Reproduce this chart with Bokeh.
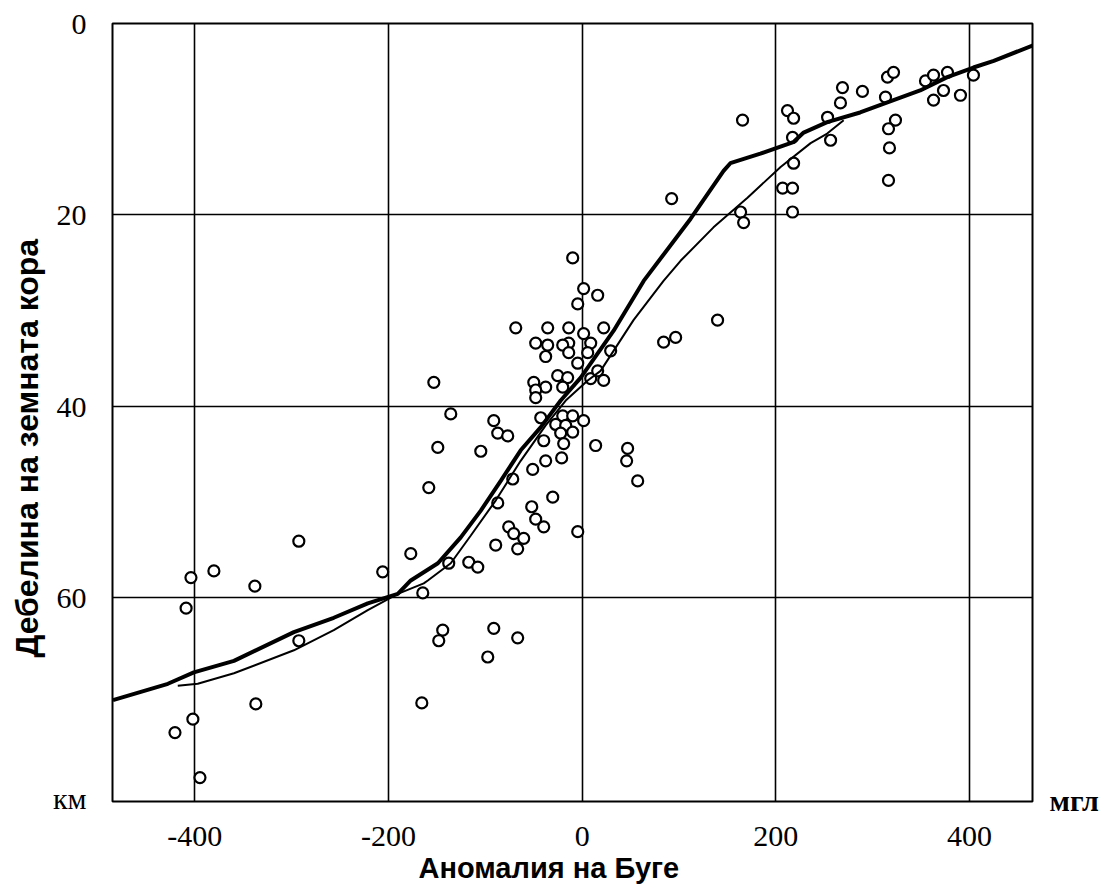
from bokeh.plotting import figure
from bokeh.models import Range1d, FixedTicker, Title, LinearAxis
from bokeh.embed import file_html
from bokeh.resources import INLINE

# Bouguer anomaly (mGal) vs crustal thickness (km)
x_ticks = [-400, -200, 0, 200, 400]
x_tick_labels = {-400: "-400", -200: "-200", 0: "0", 200: "200", 400: "400"}
y_ticks = [0, 20, 40, 60, 81]
y_tick_labels = {81: "км"}
unit_tick = [81.2]
unit_label = {81.2: "мгл"}

thick_x = [-484.5, -427.8, -401, -359.6, -297.7, -256.5, -221.4, -190.4, -177, -149, -125.4,
           -104.7, -84.1, -63.5, -42.9, -22.2, -1.5, 32.5, 63.5, 112, 146, 153, 184, 218,
           228.7, 253, 287, 321.5, 349, 377, 404, 425, 465, 480]
thick_y = [70.7, 69.0, 67.8, 66.6, 63.6, 62.1, 60.6, 59.6, 58.2, 56.4, 53.7,
           50.9, 47.8, 44.6, 42.2, 39.4, 37.0, 32.1, 26.9, 20.4, 15.4, 14.6, 13.6, 12.4,
           11.4, 10.3, 9.3, 8.0, 7.0, 5.6, 4.6, 3.9, 2.3, 1.8]

thin_x = [-417.6, -397, -359.6, -297.7, -256.5, -221.4, -190.4, -163.6, -159.4, -135.7, -115,
          -89, -63.5, -37.7, -17, 5.7, 19, 53, 84, 101.6, 135.6, 170.7, 204.9, 235.9, 253, 270]
thin_y = [69.2, 69.0, 67.9, 65.5, 63.4, 61.3, 59.6, 58.5, 58.2, 56.4, 53.5,
          49.8, 45.7, 42.0, 39.4, 37.3, 36.3, 31.0, 26.9, 24.8, 21.3, 18.2, 15.0, 12.5, 11.5, 10.1]

pts_x = [-380.3, -404, -338, -206, -409, -292.6, -292.6, -337, -402, -420.5, -394.7,
         1.5, 16, -4.6, -68.6, -35.6, -13.9, 22.2, -48, -35.6, -13.9, 1.5, 8.8, -20.1, -37.7,
         -13.9, 5.7, 29.4, -4.6, -25.3, -15, 8.8, 16, 22.2, -153.2, -50, -37.7, -48, -20.1, -48,
         -135.7, -42.8, -20.1, -9.8, 1.5, -91.3, -27.3, -17, -87.2, -76.9, -22.2, -9.8, -39.7,
         -19.1, -149.1, -104.7, 13.9, 46.9, 45.9, -37.7, -21.2, -51.1, 57.3, -71.7, -158.4,
         -87.2, -30.4, -52.1, -48, -39.7, -75.9, -4.6, -70.7, -60.4, -89.3, -66.6, -177,
         -117.1, -107.8, -137.8,
         -164.6, -144, -148.1, -91.3, -66.6, -97.5, -165.6,
         165.6, 92.4, -9.8, 163.6, 166.7, 139.8, 84.1, 96.5,
         212, 218.3, 217.2, 218.3, 207, 217.2, 217.2, 253.4, 256.5, 268.8, 266.7, 289.4,
         315.3, 321.5, 313.2, 323.5, 316.3, 317.3, 316.3, 354.5, 362.8, 377.2, 373.1, 362.8,
         390.6, 404]
pts_y = [57.2, 57.9, 58.8, 57.3, 61.1, 54.1, 64.5, 71.1, 72.7, 74.1, 78.8,
         27.7, 28.4, 29.3, 31.8, 31.8, 31.8, 31.8, 33.4, 33.6, 33.4, 32.4, 33.4, 33.6, 34.8,
         34.4, 34.4, 34.2, 35.5, 36.8, 37.0, 37.1, 36.3, 37.3, 37.5, 37.5, 38.0, 38.3, 38.0, 39.1,
         40.8, 41.2, 41.0, 41.0, 41.5, 41.5, 41.9, 42.0, 42.8, 43.1, 42.8, 42.7, 43.6,
         43.9, 44.3, 44.7, 44.1, 44.4, 45.7, 45.7, 45.4, 46.6, 47.8, 47.6, 48.5,
         50.1, 49.5, 50.5, 51.8, 52.6, 52.6, 53.1, 53.3, 53.8, 54.5, 54.9, 55.4,
         56.3, 56.8, 56.4,
         59.5, 63.4, 64.5, 63.2, 64.2, 66.2, 71.0,
         10.1, 18.3, 24.5, 19.7, 20.8, 31.0, 33.3, 32.8,
         9.1, 9.9, 11.9, 14.6, 17.2, 17.2, 19.7, 9.8, 12.2, 6.7, 8.3, 7.1,
         5.6, 5.1, 7.7, 10.1, 11.0, 13.0, 16.4, 6.0, 5.4, 5.1, 7.0, 8.0,
         7.5, 5.4]

x_title = "Аномалия на Буге"
y_title = "Дебелина на земната кора"

W, H = 1102, 886
p = figure(width=W, height=H, output_backend="svg", toolbar_location=None,
           x_range=Range1d(-485, 465), y_range=Range1d(81.3, 0),
           min_border_left=112, min_border_top=23, min_border_right=70, min_border_bottom=85)
p.background_fill_color = "white"
p.border_fill_color = "white"
p.outline_line_color = "black"
p.outline_line_width = 2

xax = p.xaxis[0]
yax = p.yaxis[0]
xax.ticker = FixedTicker(ticks=x_ticks)
xax.major_label_overrides = x_tick_labels
xax.major_label_standoff = 19
yax.ticker = FixedTicker(ticks=y_ticks)
yax.major_label_overrides = y_tick_labels
yax.major_label_standoff = 20

# unit label "мгл" on a right-hand axis at the bottom of the frame
unit_axis = LinearAxis(ticker=FixedTicker(ticks=unit_tick), major_label_overrides=unit_label,
                       major_label_standoff=11, major_label_text_baseline="top",
                       major_label_text_font_style="bold")
p.add_layout(unit_axis, "right")

for ax in (xax, yax, unit_axis):
    ax.axis_line_color = None
    ax.major_tick_line_color = None
    ax.minor_tick_line_color = None
    ax.major_label_text_font = "Liberation Serif"
    ax.major_label_text_font_size = "30px"
    ax.major_label_text_color = "black"

p.xgrid.ticker = FixedTicker(ticks=x_ticks)
p.ygrid.ticker = FixedTicker(ticks=[20, 40, 60])
p.xgrid.grid_line_color = "black"
p.ygrid.grid_line_color = "black"
p.xgrid.grid_line_width = 1.6
p.ygrid.grid_line_width = 1.6

p.scatter(pts_x, pts_y, marker="circle", size=11, fill_color="white",
          line_color="black", line_width=2.2)
p.line(thin_x, thin_y, line_color="black", line_width=2)
p.line(thick_x, thick_y, line_color="black", line_width=4)

# axis titles as side titles (placed precisely with align/offset)
p.add_layout(Title(text=x_title, text_font="Liberation Sans", text_font_style="bold",
                   text_font_size="29px", align="left", offset=306, standoff=2,
                   text_color="black"), "below")
p.add_layout(Title(text=y_title, text_font="Liberation Sans", text_font_style="bold",
                   text_font_size="32px", align="left", offset=144, standoff=10,
                   text_color="black"), "left")

open("out.html", "w").write(file_html(p, INLINE))
